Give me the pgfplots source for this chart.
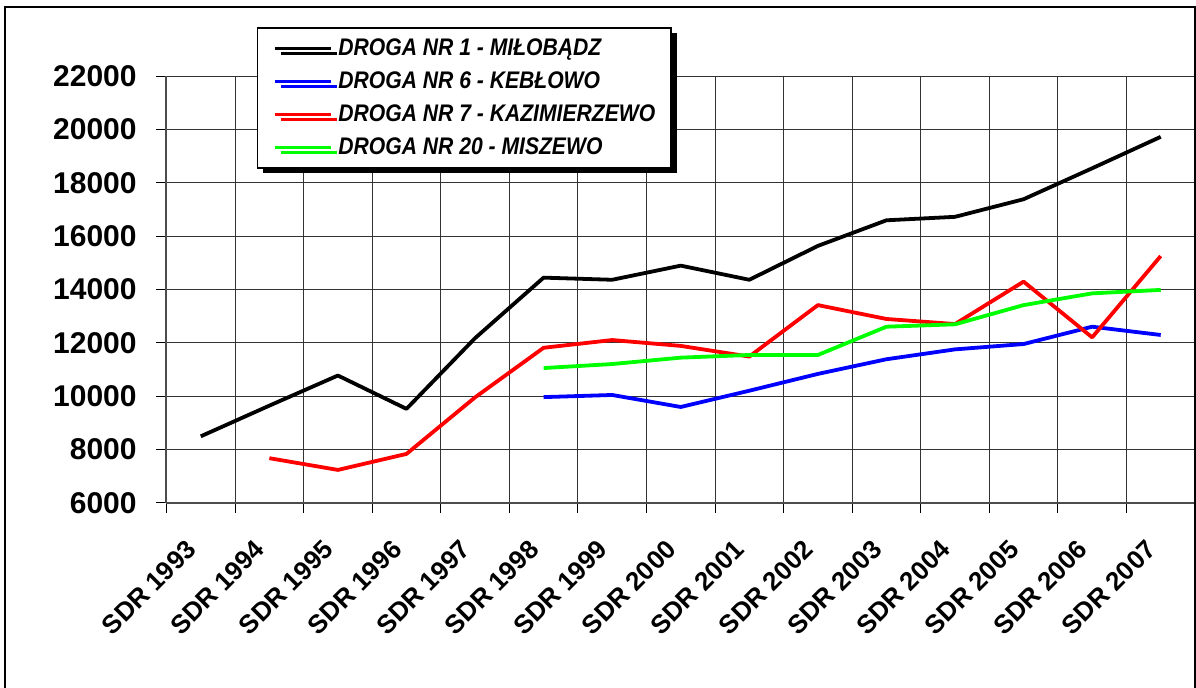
\documentclass[border=0pt]{standalone}
\usepackage{fontspec}
\setmainfont{Liberation Sans}
\newfontfamily\legfont[FakeStretch=0.88]{Liberation Sans}
\usepackage{pgfplots}
\pgfplotsset{compat=1.18}
\usetikzlibrary{shadows}
\begin{document}
\begin{tikzpicture}
\begin{axis}[
  at={(0,0)}, anchor=south west,
  scale only axis,
  width=514.25pt, height=213.35pt,
  xmin=-0.5, xmax=14.5,
  ymin=6000, ymax=22000,
  ytick={6000,8000,...,22000},
  scaled y ticks=false,
  xtick={0,...,14},
  xticklabels={SDR 1993,SDR 1994,SDR 1995,SDR 1996,SDR 1997,SDR 1998,SDR 1999,SDR 2000,SDR 2001,SDR 2002,SDR 2003,SDR 2004,SDR 2005,SDR 2006,SDR 2007},
  minor xtick={-0.5,0.5,...,14.5},
  xmajorgrids=false, xminorgrids=true, ymajorgrids=true,
  grid style={black!80, line width=0.5pt},
  minor grid style={black!80, line width=0.5pt},
  axis x line*=bottom, axis y line*=left,
  axis line style={-, gray!60!black, line width=1pt},
  tick align=outside,
  major tick length=5pt, minor tick length=5pt,
  x tick style={draw=none},
  minor x tick style={draw=black, line width=0.5pt},
  y tick style={black, line width=0.5pt},
  /pgf/number format/1000 sep={},
  /pgf/number format/assume math mode=true,
  yticklabel style={font=\fontsize{15}{15}\selectfont\bfseries, anchor=east, inner sep=0pt, xshift=-9.75pt},
  xticklabel style={font=\fontsize{13}{13}\selectfont\bfseries, inner sep=0pt, xshift=-8pt, yshift=-12.5pt, rotate=45, anchor=north east},
  legend style={
    at={(axis description cs:0.0877,1.1148)}, anchor=north west,
    draw=black, line width=0.75pt, fill=white,
    drop shadow={shadow xshift=3pt, shadow yshift=-2.5pt, fill=black, opacity=1},
    inner xsep=8pt, inner ysep=4.5pt, row sep=5pt,
    font=\fontsize{12}{12}\legfont\selectfont\bfseries\itshape,
    nodes={inner sep=0pt, text height=9pt, text depth=2.5pt},
    legend cell align=left,
  },
  legend image code/.code={\draw[#1, line width=1.5pt] (0pt,0pt) -- (28pt,0pt);},
]
\addplot[black, line width=1.9pt, line join=round] coordinates {
(0,8500) (1,9650) (2,10780) (3,9530) (4,12180) (5,14450) (6,14370) (7,14900) (8,14370) (9,15640) (10,16600) (11,16730) (12,17390) (13,18550) (14,19730)};
\addlegendentry{\hspace*{3pt}DROGA NR 1 - MIŁOBĄDZ}
\addplot[blue, line width=1.9pt, line join=round] coordinates {
(5,9970) (6,10050) (7,9600) (8,10210) (9,10840) (10,11390) (11,11760) (12,11960) (13,12610) (14,12300)};
\addlegendentry{\hspace*{3pt}DROGA NR 6 - KEBŁOWO}
\addplot[red, line width=1.9pt, line join=round] coordinates {
(1,7680) (2,7240) (3,7840) (4,9960) (5,11820) (6,12110) (7,11890) (8,11490) (9,13420) (10,12900) (11,12710) (12,14300) (13,12210) (14,15260)};
\addlegendentry{\hspace*{3pt}DROGA NR 7 - KAZIMIERZEWO}
\addplot[color={rgb,255:red,0;green,255;blue,0}, line width=1.9pt, line join=round] coordinates {
(5,11060) (6,11210) (7,11450) (8,11550) (9,11550) (10,12610) (11,12700) (12,13420) (13,13860) (14,13990)};
\addlegendentry{\hspace*{3pt}DROGA NR 20 - MISZEWO}
\end{axis}
\draw[black, line width=0.75pt] (-80.75pt,-120pt) -- (-80.75pt,248pt) -- (514.25pt,248pt) -- (514.25pt,-120pt);
\pgfresetboundingbox
\useasboundingbox (-83.25pt,-92.5pt) rectangle (514.75pt,251.5pt);
\end{tikzpicture}
\end{document}
